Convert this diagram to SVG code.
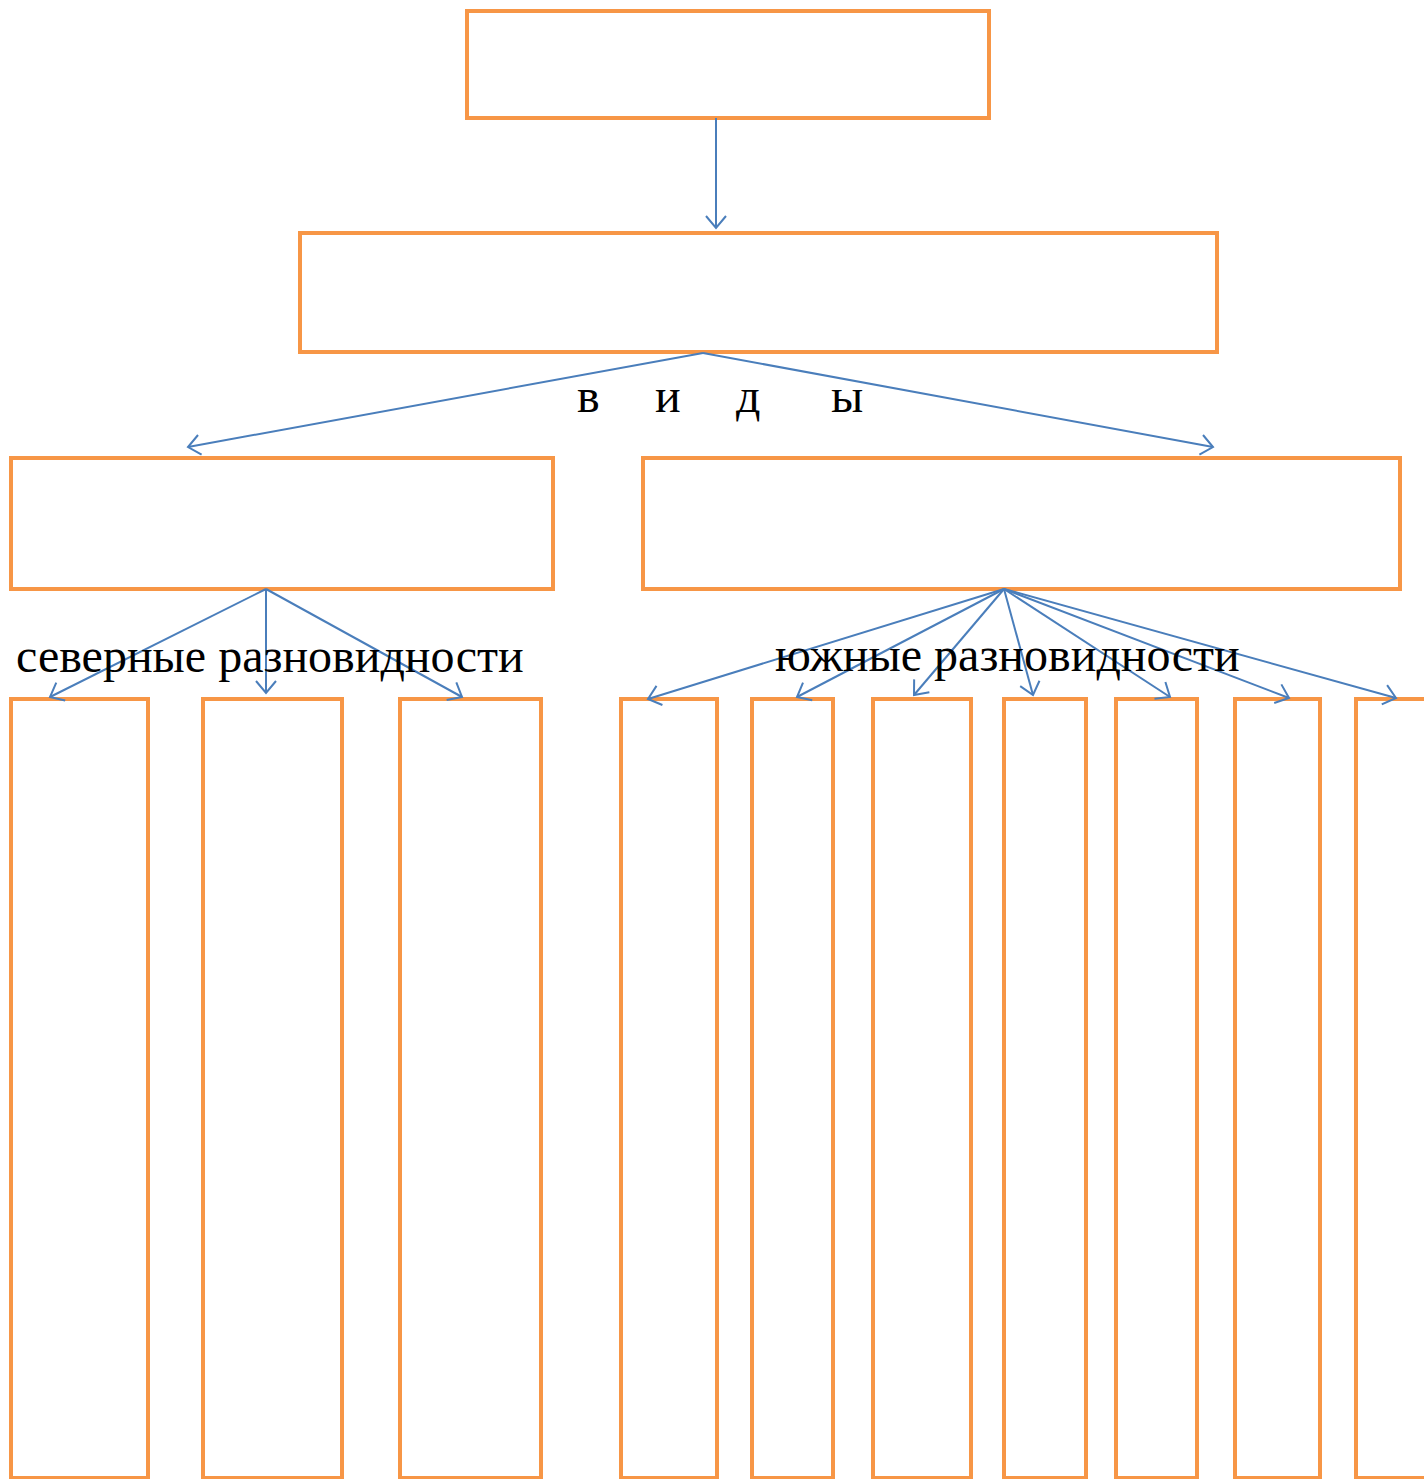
<svg xmlns="http://www.w3.org/2000/svg" width="1424" height="1479" viewBox="0 0 1424 1479">
<style>
.box{fill:none;stroke:#F79646;stroke-width:4}
.con{fill:none;stroke:#4A7EBB;stroke-width:2}
.lbl{font-family:"Liberation Serif","Times New Roman",serif;font-size:48px;fill:#000}
</style>
<defs>
<marker id="arr" markerUnits="userSpaceOnUse" markerWidth="24" markerHeight="24" viewBox="-14 -12 16 24" refX="0" refY="0" orient="auto">
<path d="M-12,-10 L0,0 L-12,10" fill="none" stroke="#4A7EBB" stroke-width="2"/>
</marker>
</defs>
<rect width="1424" height="1479" fill="#fff"/>
<g id="n-top"><rect class="box" x="467" y="11" width="522" height="107"/></g>
<g id="n-second"><rect class="box" x="300" y="233" width="917" height="119"/></g>
<g id="n-left"><rect class="box" x="11" y="458" width="542" height="131"/></g>
<g id="n-right"><rect class="box" x="643" y="458" width="757" height="131"/></g>
<g id="n-b1"><rect class="box" x="11" y="699" width="137" height="779"/></g>
<g id="n-b2"><rect class="box" x="203" y="699" width="139" height="779"/></g>
<g id="n-b3"><rect class="box" x="400" y="699" width="141" height="779"/></g>
<g id="n-b4"><rect class="box" x="621" y="699" width="96" height="779"/></g>
<g id="n-b5"><rect class="box" x="752" y="699" width="81" height="779"/></g>
<g id="n-b6"><rect class="box" x="873" y="699" width="98" height="779"/></g>
<g id="n-b7"><rect class="box" x="1004" y="699" width="82" height="779"/></g>
<g id="n-b8"><rect class="box" x="1116" y="699" width="81" height="779"/></g>
<g id="n-b9"><rect class="box" x="1235" y="699" width="85" height="779"/></g>
<g id="n-b10"><rect class="box" x="1356" y="699" width="90" height="779"/></g>
<g id="connectors">
<line class="con" x1="716" y1="118" x2="716" y2="228" marker-end="url(#arr)"/>
<line class="con" x1="703" y1="353" x2="188" y2="447" marker-end="url(#arr)"/>
<line class="con" x1="703" y1="353" x2="1213" y2="447" marker-end="url(#arr)"/>
<line class="con" x1="266" y1="589" x2="50" y2="697" marker-end="url(#arr)"/>
<line class="con" x1="266" y1="589" x2="266" y2="693" marker-end="url(#arr)"/>
<line class="con" x1="266" y1="589" x2="462" y2="697" marker-end="url(#arr)"/>
<line class="con" x1="1004" y1="589" x2="648" y2="699" marker-end="url(#arr)"/>
<line class="con" x1="1004" y1="589" x2="797" y2="697" marker-end="url(#arr)"/>
<line class="con" x1="1004" y1="589" x2="914" y2="695" marker-end="url(#arr)"/>
<line class="con" x1="1004" y1="589" x2="1033" y2="695" marker-end="url(#arr)"/>
<line class="con" x1="1004" y1="589" x2="1170" y2="697" marker-end="url(#arr)"/>
<line class="con" x1="1004" y1="589" x2="1289" y2="698" marker-end="url(#arr)"/>
<line class="con" x1="1004" y1="589" x2="1396" y2="698" marker-end="url(#arr)"/>
</g>
<text class="lbl" y="412"><tspan x="577">в</tspan><tspan x="655">и</tspan><tspan x="736">д</tspan><tspan x="831">ы</tspan></text>
<text class="lbl" x="16" y="672">северные разновидности</text>
<text class="lbl" x="775" y="671">южные разновидности</text>
</svg>
